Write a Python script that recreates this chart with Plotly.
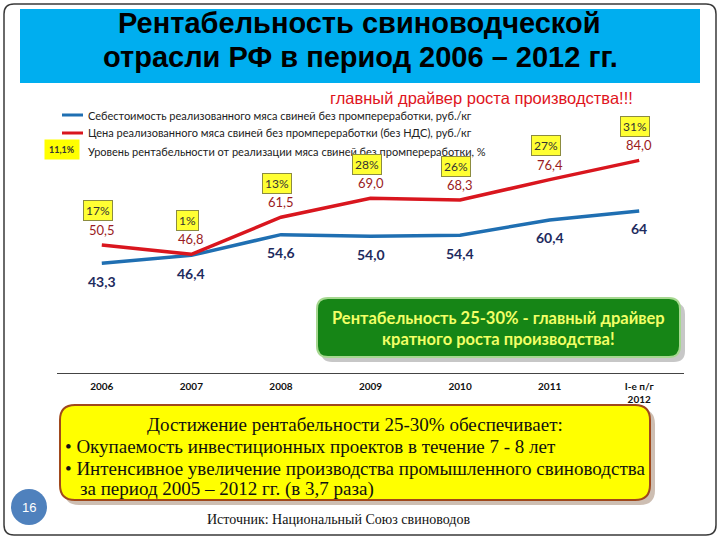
import plotly.graph_objects as go

W, H = 720, 540

# ---------------- data ----------------
years = ["2006", "2007", "2008", "2009", "2010", "2011", "2012"]
tick_labels = ["2006", "2007", "2008", "2009", "2010", "2011", "I-е п/г<br>2012"]
cost = [43.3, 46.4, 54.6, 54.0, 54.4, 60.4, 64.0]
price = [50.5, 46.8, 61.5, 69.0, 68.3, 76.4, 84.0]
cost_labels = ["43,3", "46,4", "54,6", "54,0", "54,4", "60,4", "64"]
price_labels = ["50,5", "46,8", "61,5", "69,0", "68,3", "76,4", "84,0"]
profit_labels = ["17%", "1%", "13%", "28%", "26%", "27%", "31%"]

cost_name = "Себестоимость реализованного мяса свиней без промпереработки, руб./кг"
price_name = "Цена реализованного мяса свиней без промпереработки (без НДС), руб./кг"
profit_name = "Уровень рентабельности от реализации мяса свиней без промпереработки, %"
legend_profit_sample = "11,1%"

title_l1 = "Рентабельность свиноводческой"
title_l2 = "отрасли РФ в период 2006 – 2012 гг."
subtitle = "главный драйвер роста производства!!!"
green_text = "Рентабельность 25-30% - главный драйвер<br>кратного роста производства!"
box_head = "Достижение рентабельности 25-30% обеспечивает:"
box_items = ["• Окупаемость инвестиционных проектов в течение 7 - 8 лет",
             "• Интенсивное увеличение производства промышленного свиноводства",
             "за период 2005 – 2012 гг. (в 3,7 раза)"]
source_text = "Источник: Национальный Союз свиноводов"
page_no = "16"

BLUE = "#1F6FB2"
RED = "#D9161E"
SANS = "Liberation Sans, Arial, sans-serif"
CAL = "Lato, Liberation Sans, sans-serif"
SERIF = "Liberation Serif, Times New Roman, serif"


def px(x):
    return x / W


def py(y):
    return 1 - y / H


def rrect(x0, y0, x1, y1, r):
    def P(x, y):
        return f"{px(x):.5f},{py(y):.5f}"
    return (f"M {P(x0 + r, y0)} L {P(x1 - r, y0)} Q {P(x1, y0)} {P(x1, y0 + r)} "
            f"L {P(x1, y1 - r)} Q {P(x1, y1)} {P(x1 - r, y1)} "
            f"L {P(x0 + r, y1)} Q {P(x0, y1)} {P(x0, y1 - r)} "
            f"L {P(x0, y0 + r)} Q {P(x0, y0)} {P(x0 + r, y0)} Z")


def note(text, x, y, size, color, family, xanchor="center", **kw):
    return dict(text=text, x=px(x), y=py(y), xref="paper", yref="paper",
                xanchor=xanchor, yanchor="middle", showarrow=False,
                font=dict(family=family, size=size, color=color), **kw)


fig = go.Figure()
fig.add_trace(go.Scatter(x=years, y=cost, mode="lines", name=cost_name,
                         line=dict(color=BLUE, width=3.5), showlegend=False,
                         hoverinfo="skip"))
fig.add_trace(go.Scatter(x=years, y=price, mode="lines", name=price_name,
                         line=dict(color=RED, width=3.5), showlegend=False,
                         hoverinfo="skip"))

shapes = []
annotations = []

# outer slide border
shapes.append(dict(type="path", path=rrect(4, 4, 716, 535, 10), xref="paper", yref="paper",
                   line=dict(color="#3a3a3a", width=1.5), fillcolor="rgba(0,0,0,0)"))
# title box
shapes.append(dict(type="rect", xref="paper", yref="paper", x0=px(20), x1=px(700),
                   y0=py(83), y1=py(9), fillcolor="#00AEEF", line=dict(width=0)))
annotations.append(note(f"<b>{title_l1}</b>", 359, 23, 29, "#000", SANS))
annotations.append(note(f"<b>{title_l2}</b>", 360, 57, 29, "#000", SANS))
annotations.append(note(subtitle, 482, 98, 16.5, "#E0141C", SANS))

# legend
shapes.append(dict(type="line", xref="paper", yref="paper", x0=px(62), x1=px(83),
                   y0=py(115), y1=py(115), line=dict(color=BLUE, width=3)))
shapes.append(dict(type="line", xref="paper", yref="paper", x0=px(62), x1=px(83),
                   y0=py(133), y1=py(133), line=dict(color=RED, width=3)))
annotations.append(note(cost_name, 86, 115, 11, "#222", CAL, xanchor="left"))
annotations.append(note(price_name, 86, 133, 11, "#222", CAL, xanchor="left"))
annotations.append(note(f"<b>{legend_profit_sample}</b>", 62, 149, 9, "#333", CAL,
                        bgcolor="#FFFF00", borderpad=4))
annotations.append(note(profit_name, 86, 151, 11, "#222", CAL, xanchor="left"))

# data labels (x given as category index)
for i in range(len(years)):
    annotations.append(dict(text=price_labels[i], x=i, y=price[i], xref="x", yref="y",
                            xanchor="center", yanchor="middle",
                            yshift=15, showarrow=False,
                            font=dict(family=CAL, size=13, color="#9A1B22")))
    annotations.append(dict(text=f"<b>{cost_labels[i]}</b>", x=i, y=cost[i], xref="x", yref="y",
                            xanchor="center", yanchor="middle",
                            yshift=-18, showarrow=False,
                            font=dict(family=CAL, size=14, color="#1E2B5E")))
    annotations.append(dict(text=profit_labels[i], x=i, y=price[i], xref="x", yref="y",
                            xanchor="center", yanchor="middle",
                            yshift=34, xshift=-4, showarrow=False, bgcolor="#FFFF33",
                            bordercolor="#8C8C40", borderwidth=1, borderpad=2,
                            font=dict(family=CAL, size=12, color="#333")))

# green callout
shapes.append(dict(type="path", path=rrect(321, 303, 685, 362, 11), xref="paper", yref="paper",
                   fillcolor="rgba(0,0,0,0.22)", line=dict(width=0)))
shapes.append(dict(type="path", path=rrect(317, 298, 680, 357, 11), xref="paper", yref="paper",
                   fillcolor="#168516", line=dict(color="#A6D890", width=2)))
annotations.append(note(f"<b>{green_text}</b>", 498, 328, 16.5, "#F2FF66", CAL, align="center"))

# yellow box
shapes.append(dict(type="path", path=rrect(64, 409, 655, 505, 15), xref="paper", yref="paper",
                   fillcolor="rgba(90,40,0,0.30)", line=dict(width=0)))
shapes.append(dict(type="path", path=rrect(60, 405, 650, 500, 15), xref="paper", yref="paper",
                   fillcolor="#FFFF00", line=dict(color="#A0481C", width=2)))
annotations.append(note(box_head, 355, 424, 19, "#111", SERIF))
for item, xx, yy in zip(box_items, [63, 63, 78], [446, 468, 489]):
    annotations.append(note(item, xx, yy, 19, "#111", SERIF, xanchor="left"))

# page number
shapes.append(dict(type="circle", xref="paper", yref="paper", x0=px(11), x1=px(47),
                   y0=py(525), y1=py(489), fillcolor="#4F81BD", line=dict(width=0)))
annotations.append(note(page_no, 29, 507, 13, "#fff", SANS))
# source
annotations.append(note(source_text, 338, 519, 14, "#111", SERIF))

fig.update_layout(
    width=W, height=H, margin=dict(l=0, r=0, t=0, b=0),
    paper_bgcolor="white", plot_bgcolor="rgba(0,0,0,0)",
    shapes=shapes, annotations=annotations, showlegend=False,
    xaxis=dict(domain=[57 / W, 684 / W], type="category", range=[-0.5, 6.5],
               tickvals=years, ticktext=[f"<b>{t}</b>" for t in tick_labels],
               showline=True, linecolor="#444", linewidth=1, showgrid=False,
               zeroline=False, ticks="", ticklabelstandoff=4,
               tickfont=dict(family=CAL, size=10, color="#111"),
               fixedrange=True),
    yaxis=dict(domain=[(H - 372.5) / H, (H - 120) / H], range=[0, 100], visible=False,
               showgrid=False, zeroline=False, fixedrange=True),
)

fig.write_html("out.html")
